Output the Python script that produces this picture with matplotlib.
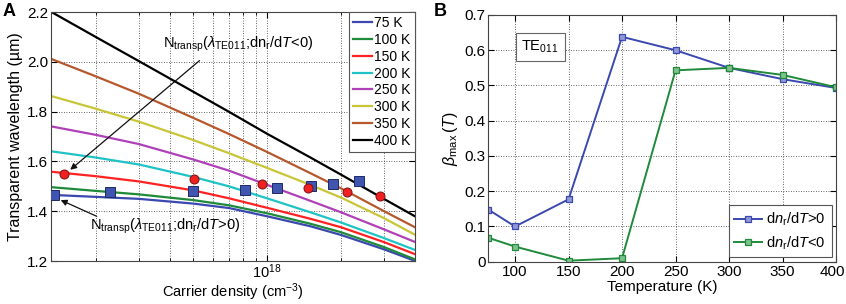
import matplotlib
matplotlib.use("Agg")
import matplotlib.pyplot as plt
import matplotlib.transforms as mtransforms
from matplotlib.ticker import FixedLocator, NullFormatter, FixedFormatter

plt.rcParams['font.family'] = ['Liberation Sans', 'DejaVu Sans']
plt.rcParams['mathtext.fontset'] = 'custom'
plt.rcParams['mathtext.rm'] = 'Liberation Sans'
plt.rcParams['mathtext.it'] = 'Liberation Sans:italic'
plt.rcParams['mathtext.bf'] = 'Liberation Sans:bold'

# ---- Panel A data ----
carrier_density = [1.316e17, 2e17, 3e17, 5e17, 7e17, 1e18, 1.5e18, 2e18, 3e18, 4e18]
temp_labels = ["75 K", "100 K", "150 K", "200 K", "250 K", "300 K", "350 K", "400 K"]
wl_75 = [1.466, 1.458, 1.450, 1.431, 1.413, 1.380, 1.340, 1.305, 1.247, 1.201]
wl_100 = [1.497, 1.482, 1.468, 1.445, 1.424, 1.392, 1.350, 1.316, 1.256, 1.207]
wl_150 = [1.559, 1.541, 1.520, 1.484, 1.452, 1.414, 1.370, 1.336, 1.276, 1.228]
wl_200 = [1.641, 1.616, 1.588, 1.538, 1.500, 1.452, 1.396, 1.355, 1.292, 1.245]
wl_250 = [1.741, 1.707, 1.670, 1.608, 1.563, 1.506, 1.442, 1.396, 1.327, 1.277]
wl_300 = [1.863, 1.812, 1.760, 1.686, 1.633, 1.574, 1.506, 1.455, 1.372, 1.306]
wl_350 = [2.012, 1.942, 1.872, 1.775, 1.710, 1.638, 1.553, 1.492, 1.400, 1.336]
wl_400 = [2.201, 2.100, 2.003, 1.880, 1.799, 1.711, 1.616, 1.547, 1.449, 1.380]
curve_colors = ['#3a48b0', '#1e8a3a', '#ff2222', '#1fc3c6', '#b040b8',
                '#c8c636', '#b6582c', '#000000']

# transparency points (dn/dT>0 squares, dn/dT<0 circles)
sq_n = [1.357e17, 2.286e17, 4.985e17, 8.14e17, 1.098e18, 1.51e18, 1.848e18, 2.357e18]
sq_wl = [1.464, 1.476, 1.483, 1.485, 1.495, 1.501, 1.511, 1.521]
ci_n = [1.49e17, 5.02e17, 9.5e17, 1.47e18, 2.114e18, 2.888e18]
ci_wl = [1.548, 1.531, 1.510, 1.494, 1.479, 1.461]

# ---- Panel B data ----
temperature = [75, 100, 150, 200, 250, 300, 350, 400]
beta_pos = [0.148, 0.100, 0.177, 0.638, 0.600, 0.550, 0.518, 0.493]
beta_neg = [0.068, 0.043, 0.003, 0.010, 0.543, 0.550, 0.530, 0.495]

grid_kw = dict(color='#333333', linestyle=(0, (1, 2)), linewidth=0.6)
FS = 11

fig = plt.figure(figsize=(8.46, 3.04), dpi=100)
axA = fig.add_axes([0.0603, 0.141, 0.4302, 0.8195])
axB = fig.add_axes([0.5772, 0.139, 0.411, 0.8117])

# Panel A
curves = [wl_75, wl_100, wl_150, wl_200, wl_250, wl_300, wl_350, wl_400]
for wl, c, lab in zip(curves, curve_colors, temp_labels):
    axA.plot(carrier_density, wl, color=c, lw=1.6, label=lab)
axA.plot(sq_n, sq_wl, 's', ms=6.5, mfc='#3f55b0', mec='#1c2a66', mew=0.7, zorder=5)
axA.plot(ci_n, ci_wl, 'o', ms=6.5, mfc='#f02020', mec='#7a1010', mew=0.7, zorder=6)

axA.set_xscale('log')
axA.set_xlim(1.316e17, 4e18)
axA.set_ylim(1.2, 2.2)
axA.xaxis.set_major_locator(FixedLocator([1e18]))
axA.xaxis.set_major_formatter(FixedFormatter([r'$10^{18}$']))
axA.xaxis.set_minor_locator(FixedLocator([2e17, 3e17, 4e17, 5e17, 6e17, 7e17, 8e17,
                                          9e17, 2e18, 3e18]))
axA.xaxis.set_minor_formatter(NullFormatter())
axA.set_yticks([1.2, 1.4, 1.6, 1.8, 2.0, 2.2])
axA.set_yticklabels(['1.2', '1.4', '1.6', '1.8', '2.0', '2.2'])
axA.grid(True, which='both', **grid_kw)
axA.tick_params(which='both', direction='in', labelsize=FS, top=True, right=True, pad=2)
axA.tick_params(axis='x', which='major', labelsize=10.5, pad=1)
axA.tick_params(which='major', length=4)
axA.tick_params(which='minor', length=2)
axA.set_xlabel('Carrier density (cm$^{-3}$)', fontsize=10.5, va='top')
axA.xaxis.set_label_coords(0.5, -0.08)
axA.set_ylabel('Transparent wavelength (\u00b5m)', fontsize=11.5, labelpad=3)
legA = axA.legend(loc='upper right', fontsize=10, handlelength=1.4, handletextpad=0.15,
                  labelspacing=0.2, borderpad=0.3, fancybox=False, framealpha=1,
                  edgecolor='#555555', borderaxespad=0.0)
legA.get_frame().set_linewidth(0.8)

label_lt = r'N$_{\mathrm{transp}}$($\lambda_{\mathrm{TE011}}$;dn$_{\mathrm{r}}$/d$T$<0)'
label_gt = r'N$_{\mathrm{transp}}$($\lambda_{\mathrm{TE011}}$;dn$_{\mathrm{r}}$/d$T$>0)'
axA.text(3.75e17, 2.069, label_lt, fontsize=10.5, ha='left', va='center')
axA.annotate('', xy=(1.53e17, 1.556), xytext=(5.3e17, 2.005),
             arrowprops=dict(arrowstyle='-|>', color='#111111', lw=0.9,
                             shrinkA=0, shrinkB=3, mutation_scale=9))
axA.text(1.9e17, 1.341, label_gt, fontsize=10.5, ha='left', va='center')
axA.annotate('', xy=(1.39e17, 1.452), xytext=(2.02e17, 1.38),
             arrowprops=dict(arrowstyle='-|>', color='#111111', lw=0.9,
                             shrinkA=0, shrinkB=3, mutation_scale=9))

# Panel B
axB.plot(temperature, beta_pos, '-s', color='#3a48b0', lw=1.4, ms=4.5,
         mfc='#8f99d6', mec='#3a48b0', mew=0.9, label=r'd$n_{\mathrm{r}}$/d$T$>0')
axB.plot(temperature, beta_neg, '-s', color='#1e8a3a', lw=1.4, ms=4.5,
         mfc='#7fc08f', mec='#1e8a3a', mew=0.9, label=r'd$n_{\mathrm{r}}$/d$T$<0')
axB.set_xlim(75, 400)
axB.set_ylim(0, 0.7)
axB.set_xticks([100, 150, 200, 250, 300, 350, 400])
axB.set_yticks([0, 0.1, 0.2, 0.3, 0.4, 0.5, 0.6, 0.7])
axB.set_yticklabels(['0', '0.1', '0.2', '0.3', '0.4', '0.5', '0.6', '0.7'])
axB.grid(True, **grid_kw)
axB.tick_params(direction='in', labelsize=FS, top=True, right=True, length=4, pad=2)
axB.set_xlabel('Temperature (K)', fontsize=11, labelpad=1)
axB.set_ylabel(r'$\beta_{\mathrm{max}}\,(T)$', fontsize=11.5, labelpad=3)
legB = axB.legend(loc='lower right', fontsize=10.5, handlelength=1.9, handletextpad=0.3,
                  labelspacing=0.4, borderpad=0.4, fancybox=False, framealpha=1,
                  edgecolor='#555555', borderaxespad=0.3)
legB.get_frame().set_linewidth(0.8)
axB.text(0.095, 0.87, r'TE$_{011}$', transform=axB.transAxes, fontsize=10.5,
         ha='left', va='center',
         bbox=dict(boxstyle='square,pad=0.4', fc='white', ec='#666666', lw=0.8))

# keep the last tick label inside the figure
last = axB.get_xticklabels()[-1]
last.set_transform(last.get_transform() +
                   mtransforms.ScaledTranslation(-4 / 100, 0, fig.dpi_scale_trans))

for ax in (axA, axB):
    for s in ax.spines.values():
        s.set_color('#444444')
        s.set_linewidth(0.8)

fig.text(0.003, 0.962, 'A', fontsize=13, fontweight='bold', va='center')
fig.text(0.513, 0.962, 'B', fontsize=13, fontweight='bold', va='center')

fig.savefig('out.png', dpi=100)
